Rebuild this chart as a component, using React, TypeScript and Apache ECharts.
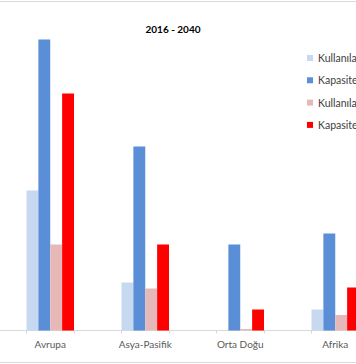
import React, { useEffect, useRef } from "react";
import * as echarts from "echarts";

const regions = ["Avrupa", "Asya-Pasifik", "Orta Doğu", "Afrika"];
const seriesNames = ["Kullanılan (2016)", "Kapasite (2016)", "Kullanılan (2040)", "Kapasite (2040)"];
const kullanilan2016 = [140, 48, 0, 21];
const kapasite2016 = [291, 184, 86, 97];
const kullanilan2040 = [86, 42, 1.5, 15.5];
const kapasite2040 = [237, 86, 21, 43];
const colors = ["#C6D9F0", "#5A8ED6", "#E6B8B7", "#FF0000"];

// Excel layout: each region sits in every other category slot (labels skipped)
function spread<T>(arr: T[], blank: T): T[] {
  const out: T[] = [blank];
  arr.forEach((v) => {
    out.push(v);
    out.push(blank);
  });
  return out;
}

export default function App() {
  const ref = useRef<HTMLDivElement>(null);
  useEffect(() => {
    if (!ref.current) return;
    const chart = echarts.init(ref.current, null, { renderer: "svg" });
    const font = "Lato, 'Open Sans', sans-serif";
    const values = [kullanilan2016, kapasite2016, kullanilan2040, kapasite2040];
    chart.setOption({
      animation: false,
      backgroundColor: "#ffffff",
      title: {
        text: "2016 - 2040",
        left: 189,
        top: 19,
        textAlign: "center",
        textStyle: { fontFamily: font, fontSize: 10, fontWeight: "bold", color: "#000000" },
      },
      legend: {
        orient: "vertical",
        left: 323,
        top: 47,
        icon: "rect",
        itemWidth: 6,
        itemHeight: 6,
        itemGap: 10.3,
        textStyle: { fontFamily: font, fontSize: 10.5, color: "#404040", lineHeight: 12 },
        data: seriesNames,
      },
      grid: { left: 0, right: 12.5, top: 30.5, bottom: 33.5, containLabel: false },
      xAxis: {
        type: "category",
        data: spread(regions, ""),
        axisLine: { lineStyle: { color: "#D9D9D9", width: 1 } },
        axisTick: { show: true, length: 3, interval: 0, lineStyle: { color: "#D9D9D9" } },
        axisLabel: { interval: 0, fontFamily: font, fontSize: 10, color: "#595959", margin: 8 },
      },
      yAxis: {
        type: "value",
        min: 0,
        max: 300,
        show: false,
        splitLine: { show: false },
      },
      graphic: [
        { type: "line", shape: { x1: 0, y1: 1.5, x2: 440, y2: 1.5 }, style: { stroke: "#D9D9D9", lineWidth: 1 } },
        { type: "line", shape: { x1: 0, y1: 362.5, x2: 440, y2: 362.5 }, style: { stroke: "#D9D9D9", lineWidth: 1 } },
      ],
      series: seriesNames.map((name, i) => ({
        name,
        type: "bar",
        data: spread<number | null>(values[i], null),
        barGap: "0%",
        barCategoryGap: "0%",
        itemStyle: { color: colors[i] },
      })),
    });
    return () => chart.dispose();
  }, []);
  return (
    <div style={{ position: "fixed", left: 0, top: 0, width: 356, height: 364, overflow: "hidden", background: "#fff" }}>
      <div ref={ref} style={{ position: "absolute", left: -21, top: 0, width: 440, height: 364 }} />
    </div>
  );
}
